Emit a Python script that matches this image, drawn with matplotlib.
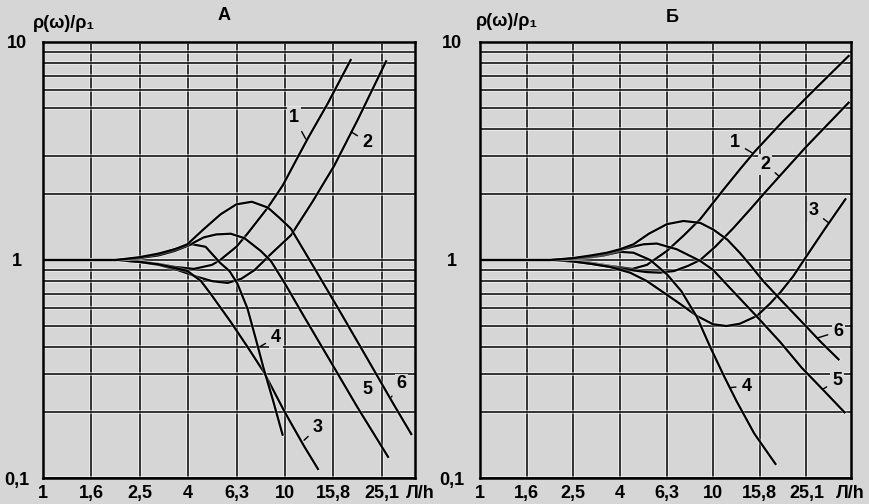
#!/usr/bin/env python3
import matplotlib
matplotlib.use('Agg')
import matplotlib.pyplot as plt
import matplotlib.patheffects as pe
from matplotlib.ticker import FixedLocator, NullFormatter

plt.rcParams['font.family'] = ['Liberation Sans', 'DejaVu Sans']
plt.rcParams['font.weight'] = 'bold'

BG = '#d6d6d6'
W, H = 870, 504

# ось абсцисс: Л/h, ось ординат: rho(w)/rho1
x_ticks = [1, 1.585, 2.512, 3.981, 6.31, 10, 15.85, 25.12]
x_labels = ['1', '1,6', '2,5', '4', '6,3', '10', '15,8', '25,1']
y_ticks = [0.1, 1, 10]
y_labels = ['0,1', '1', '10']
y_minor_a = [0.2, 0.3, 0.4, 0.5, 0.6, 0.7, 0.8, 0.9, 2, 3, 5, 6, 7, 8, 9]
y_minor_b = [0.2, 0.3, 0.4, 0.5, 0.6, 0.7, 0.8, 0.9, 2, 3, 4, 5, 6, 7, 8, 9]

# --- панель А ---
a1_x = [1, 1.6, 2.0, 2.5, 3.0, 3.5, 4.2, 5.0, 5.4, 6.3, 7.0, 8.5, 9.8, 11.0, 12.4, 15.0, 18.7]
a1_y = [1, 1, 1.0, 0.985, 0.96, 0.93, 0.91, 0.95, 1.0, 1.15, 1.32, 1.74, 2.2, 2.8, 3.59, 5.2, 8.27]
a2_x = [1, 1.6, 2.0, 2.5, 3.0, 3.6, 4.3, 5.0, 5.8, 6.6, 7.5, 8.75, 10.6, 13.0, 16, 20, 26.2]
a2_y = [1, 1, 1.0, 0.98, 0.95, 0.9, 0.84, 0.8, 0.785, 0.82, 0.9, 1.065, 1.3, 1.85, 2.71, 4.4, 8.16]
a3_x = [1, 1.6, 2.0, 2.5, 3.0, 3.5, 3.96, 4.5, 4.93, 5.97, 7.0, 8.2, 10, 12, 13.7]
a3_y = [1, 1, 1.0, 0.98, 0.955, 0.92, 0.89, 0.8, 0.70, 0.52, 0.4, 0.305, 0.2, 0.14, 0.11]
a4_x = [1, 1.6, 2.0, 2.5, 3.0, 3.5, 4.15, 4.7, 5.4, 5.9, 6.36, 7.0, 7.6, 8.18, 8.9, 9.78]
a4_y = [1, 1, 1.0, 1.02, 1.06, 1.12, 1.18, 1.15, 0.97, 0.89, 0.78, 0.6, 0.43, 0.316, 0.23, 0.158]
a5_x = [1, 1.6, 2.0, 2.5, 3.0, 3.5, 3.95, 4.62, 5.2, 5.97, 6.8, 7.95, 8.75, 10, 12, 15.5, 20, 26.7]
a5_y = [1, 1, 1.0, 1.02, 1.05, 1.1, 1.16, 1.27, 1.31, 1.32, 1.26, 1.10, 0.99, 0.78, 0.55, 0.34, 0.21, 0.125]
a6_x = [1, 1.6, 2.0, 2.5, 3.0, 3.5, 3.95, 4.6, 5.42, 6.3, 7.3, 8.5, 9.5, 10.6, 13, 16.6, 22, 28, 33.3]
a6_y = [1, 1, 1.0, 1.03, 1.07, 1.12, 1.18, 1.38, 1.62, 1.8, 1.85, 1.74, 1.56, 1.39, 0.95, 0.6, 0.35, 0.22, 0.159]

# --- панель Б ---
b1_x = [1, 1.6, 2.0, 2.5, 3.0, 3.6, 4.5, 5.2, 6.33, 7.5, 8.8, 11.1, 13.0, 15.1, 20, 27, 38.1]
b1_y = [1, 1, 1.0, 0.99, 0.97, 0.94, 0.91, 0.95, 1.1, 1.3, 1.54, 2.11, 2.6, 3.15, 4.35, 6.0, 8.63]
b2_x = [1, 1.6, 2.0, 2.5, 3.0, 3.6, 4.4, 5.2, 5.9, 6.8, 7.8, 8.8, 10.2, 12.2, 14.5, 16.4, 19.1, 25, 38.1]
b2_y = [1, 1, 1.0, 0.985, 0.96, 0.93, 0.9, 0.88, 0.875, 0.89, 0.94, 1.0, 1.15, 1.4, 1.72, 2.0, 2.4, 3.3, 5.27]
b3_x = [1, 1.6, 2.0, 2.5, 3.0, 3.6, 4.4, 5.2, 6.12, 7.2, 8.51, 10, 11.4, 13, 15.4, 17.5, 19.4, 22, 24.5, 30, 36.9]
b3_y = [1, 1, 1.0, 0.985, 0.96, 0.93, 0.875, 0.8, 0.71, 0.63, 0.554, 0.507, 0.498, 0.51, 0.554, 0.63, 0.71, 0.84, 1.0, 1.38, 1.9]
b4_x = [1, 1.6, 2.0, 2.5, 3.0, 3.4, 3.98, 4.55, 5.37, 6.33, 7.3, 8.5, 9.7, 11.1, 12.6, 15, 18.5]
b4_y = [1, 1, 1.0, 1.01, 1.03, 1.05, 1.09, 1.08, 1.0, 0.86, 0.72, 0.55, 0.40, 0.295, 0.225, 0.16, 0.116]
b5_x = [1, 1.6, 2.0, 2.5, 3.0, 3.5, 3.98, 4.5, 5.02, 5.73, 6.98, 8.8, 10, 12, 15.4, 19.4, 24, 30, 36.6]
b5_y = [1, 1, 1.0, 1.015, 1.04, 1.07, 1.11, 1.15, 1.18, 1.19, 1.12, 0.99, 0.9, 0.73, 0.55, 0.42, 0.32, 0.25, 0.2]
b6_x = [1, 1.6, 2.0, 2.5, 3.0, 3.5, 3.98, 4.55, 5.3, 6.33, 7.46, 8.8, 10, 11.5, 13, 14.4, 16.4, 19.4, 24, 29, 34.5]
b6_y = [1, 1, 1.0, 1.02, 1.05, 1.08, 1.12, 1.18, 1.32, 1.46, 1.51, 1.48, 1.38, 1.24, 1.08, 0.95, 0.8, 0.66, 0.52, 0.42, 0.35]

# номера кривых: текст, положение, конец выноски
a_names = ['1', '2', '3', '4', '5', '6']
a_text_pos = [(10.9, 4.5), (22, 3.47), (13.7, 0.171), (9.18, 0.442), (22, 0.256), (30.3, 0.27)]
a_leader = [(12.2, 3.59), (18.8, 3.87), (12.0, 0.149), (7.88, 0.4), None, (27.5, 0.235)]
b_names = ['1', '2', '3', '4', '5', '6']
b_text_pos = [(12.4, 3.46), (16.7, 2.75), (26.9, 1.68), (13.95, 0.264), (34, 0.279), (34.5, 0.47)]
b_leader = [(14.7, 3.1), (19.2, 2.42), (31.3, 1.48), (11.9, 0.26), (29.4, 0.255), (28.2, 0.44)]


def px_box(l, t, r, b):
    return [l / W, 1 - b / H, (r - l) / W, (b - t) / H]


def setup(ax, xmax, minor, ypad):
    ax.set_facecolor(BG)
    ax.set_xscale('log')
    ax.set_yscale('log')
    ax.set_xlim(1, xmax)
    ax.set_ylim(0.1, 10)
    ax.xaxis.set_major_locator(FixedLocator(x_ticks))
    ax.set_xticklabels(x_labels)
    ax.xaxis.set_minor_locator(FixedLocator([]))
    ax.xaxis.set_minor_formatter(NullFormatter())
    ax.yaxis.set_major_locator(FixedLocator(y_ticks))
    ax.set_yticklabels(y_labels, ha='center')
    ax.yaxis.set_minor_locator(FixedLocator(minor))
    ax.yaxis.set_minor_formatter(NullFormatter())
    halo = [pe.Stroke(linewidth=2.6, foreground='white', alpha=0.6), pe.Normal()]
    ax.grid(True, which='both', color='black', linewidth=1.1, path_effects=halo)
    ax.xaxis.grid(True, which='minor', linewidth=0)
    ax.tick_params(which='both', length=0)
    ax.tick_params(axis='x', pad=5, labelsize=13)
    ax.tick_params(axis='y', pad=ypad, labelsize=13)
    for s in ax.spines.values():
        s.set_linewidth(1.8)
    ax.set_axisbelow(True)


def draw(ax, curves, names, text_pos, leaders):
    for xs, ys in curves:
        ax.plot(xs, ys, color='black', linewidth=1.6, solid_joinstyle='round',
                path_effects=[pe.Stroke(linewidth=2.8, foreground='white', alpha=0.35), pe.Normal()])
    for name, pos, lead in zip(names, text_pos, leaders):
        box = dict(boxstyle='square,pad=0.1', fc=BG, ec='none')
        if lead is None:
            ax.text(pos[0], pos[1], name, ha='center', va='center', fontsize=13, bbox=box)
        else:
            ax.annotate(name, xy=lead, xytext=pos, ha='center', va='center', fontsize=13,
                        bbox=box,
                        arrowprops=dict(arrowstyle='-', color='black', lw=1.0, shrinkA=3, shrinkB=0))


fig = plt.figure(figsize=(W / 100, H / 100), dpi=100)
fig.patch.set_facecolor(BG)

axA = fig.add_axes(px_box(43, 42, 415, 478))
setup(axA, 34.5, y_minor_a, 19)
draw(axA, [(a1_x, a1_y), (a2_x, a2_y), (a3_x, a3_y), (a4_x, a4_y), (a5_x, a5_y), (a6_x, a6_y)],
     a_names, a_text_pos, a_leader)

axB = fig.add_axes(px_box(480, 42, 851, 478))
setup(axB, 39, y_minor_b, 20)
draw(axB, [(b1_x, b1_y), (b2_x, b2_y), (b3_x, b3_y), (b4_x, b4_y), (b5_x, b5_y), (b6_x, b6_y)],
     b_names, b_text_pos, b_leader)


def ftext(px, py, s, **kw):
    fig.text(px / W, 1 - py / H, s, ha='center', va='center', **kw)


ftext(64, 24, 'ρ(ω)/ρ₁', fontsize=13)
ftext(507, 22, 'ρ(ω)/ρ₁', fontsize=13)
ftext(224, 15, 'А', fontsize=13)
ftext(672, 18, 'Б', fontsize=13)
ftext(420, 494, 'Л/h', fontsize=13)
ftext(850, 494, 'Л/h', fontsize=13)

fig.savefig('out.png', dpi=100, facecolor=BG)
